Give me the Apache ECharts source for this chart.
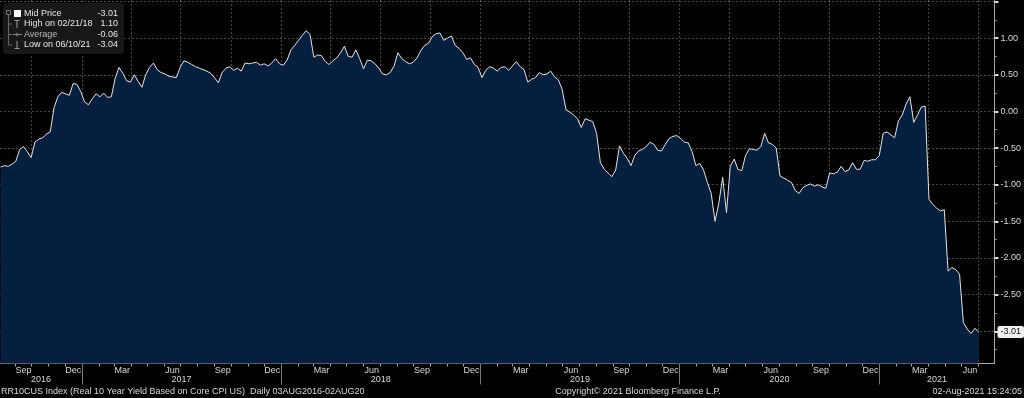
<!DOCTYPE html>
<html>
<head>
<meta charset="utf-8">
<title>RR10CUS Index</title>
<script src="https://cdn.jsdelivr.net/npm/echarts@6.0.0/dist/echarts.min.js"></script>
<style>
  html, body { margin: 0; padding: 0; background: #000; }
  #chart { width: 1024px; height: 398px; }
</style>
</head>
<body>
<div id="chart"></div>
<script>
// weekly closes (Fridays)
const startDate = [2016, 7, 5]
const values = [
  -0.76, -0.74, -0.75, -0.72, -0.68, -0.52, -0.48, -0.55, -0.63, -0.42,
  -0.38, -0.36, -0.31, -0.28, 0.05, 0.20, 0.26, 0.24, 0.22, 0.38,
  0.37, 0.27, 0.13, 0.09, 0.17, 0.24, 0.20, 0.25, 0.19, 0.20,
  0.45, 0.60, 0.52, 0.42, 0.40, 0.50, 0.41, 0.33, 0.50, 0.60,
  0.66, 0.57, 0.53, 0.51, 0.48, 0.47, 0.46, 0.60, 0.69, 0.67,
  0.64, 0.61, 0.59, 0.57, 0.55, 0.52, 0.46, 0.39, 0.53, 0.59,
  0.61, 0.56, 0.59, 0.55, 0.66, 0.65, 0.66, 0.67, 0.63, 0.65,
  0.62, 0.66, 0.72, 0.65, 0.63, 0.70, 0.84, 0.90, 0.97, 1.04,
  1.10, 1.05, 0.74, 0.77, 0.76, 0.68, 0.64, 0.69, 0.73, 0.80,
  0.89, 0.75, 0.74, 0.84, 0.72, 0.58, 0.70, 0.69, 0.65, 0.59,
  0.51, 0.50, 0.53, 0.62, 0.80, 0.72, 0.68, 0.65, 0.67, 0.73,
  0.83, 0.90, 0.93, 1.02, 1.06, 1.07, 0.97, 1.00, 1.03, 0.90,
  0.86, 0.80, 0.71, 0.73, 0.64, 0.60, 0.46, 0.56, 0.61, 0.59,
  0.55, 0.60, 0.61, 0.56, 0.62, 0.68, 0.61, 0.57, 0.40, 0.44,
  0.46, 0.53, 0.50, 0.51, 0.55, 0.47, 0.43, 0.30, 0.02, -0.01,
  -0.05, -0.10, -0.22, -0.10, -0.12, -0.14, -0.30, -0.70, -0.79, -0.84,
  -0.89, -0.80, -0.47, -0.57, -0.64, -0.74, -0.60, -0.54, -0.52, -0.48,
  -0.42, -0.45, -0.53, -0.54, -0.45, -0.37, -0.34, -0.33, -0.37, -0.42,
  -0.43, -0.55, -0.74, -0.71, -0.80, -0.97, -1.12, -1.50, -1.25, -0.90,
  -1.38, -0.75, -0.65, -0.79, -0.81, -0.60, -0.51, -0.52, -0.53, -0.48,
  -0.30, -0.43, -0.45, -0.50, -0.88, -0.91, -0.94, -0.97, -1.08, -1.12,
  -1.04, -1.01, -0.99, -1.02, -1.00, -1.03, -1.05, -0.84, -0.85, -0.83,
  -0.75, -0.82, -0.80, -0.70, -0.79, -0.79, -0.67, -0.68, -0.66, -0.66,
  -0.60, -0.30, -0.28, -0.32, -0.36, -0.13, -0.05, 0.10, 0.20, -0.15,
  -0.05, 0.06, 0.07, -1.20, -1.27, -1.32, -1.36, -1.34, -2.18, -2.13,
  -2.16, -2.22, -2.88, -2.97, -3.03, -2.96, -3.01
]

const monthNames = ['Jan', 'Feb', 'Mar', 'Apr', 'May', 'Jun', 'Jul', 'Aug', 'Sep', 'Oct', 'Nov', 'Dec']
const labelMonths = [2, 5, 8, 11] // Mar Jun Sep Dec
const years = [2016, 2017, 2018, 2019, 2020, 2021]
const yLabels = [1.0, 0.5, 0.0, -0.5, -1.0, -1.5, -2.0, -2.5]
const yTicks = [1.5, 1.0, 0.5, 0.0, -0.5, -1.0, -1.5, -2.0, -2.5, -3.0]
const yMinorTicks = [1.25, 0.75, 0.25, -0.25, -0.75, -1.25, -1.75, -2.25, -2.75, -3.25]
const yMin = -3.44
const yMax = 1.52

const legendLabels = ['Mid Price', 'High on 02/21/18', 'Average', 'Low on 06/10/21']
const legendValues = ['-3.01', '1.10', '-0.06', '-3.04']

const footerLeft = 'RR10CUS Index (Real 10 Year Yield Based on Core CPI US)  Daily 03AUG2016-02AUG20'
const footerCenter = 'Copyright\u00A9 2021 Bloomberg Finance L.P.'
const footerRight = '02-Aug-2021 15:24:05'

const axisStart = new Date(2016, 7, 4).getTime()
const axisEnd = new Date(2021, 6, 31).getTime()

const DAY = 864e5
const t0 = new Date(startDate[0], startDate[1], startDate[2]).getTime()
const seriesData = values.map((v, i) => [t0 + i * 7 * DAY, v])
const lastValue = values[values.length - 1]

// tick positions on the date axis (timestamps on a value axis)
const monthStarts = []
const quarterStarts = []
const monthMids = []
const yearStarts = []
const yearMids = []
years.forEach(y => {
  for (let m = 0; m < 12; m++) {
    monthStarts.push(new Date(y, m, 1).getTime())
    if (m % 3 === 0) quarterStarts.push(new Date(y, m, 1).getTime())
  }
  labelMonths.forEach(m => monthMids.push(new Date(y, m, 16).getTime()))
  yearStarts.push(new Date(y, 0, 1).getTime())
  const a = Math.max(axisStart, new Date(y, 0, 1).getTime())
  const b = Math.min(axisEnd, new Date(y + 1, 0, 1).getTime())
  yearMids.push((a + b) / 2)
})
const inRange = arr => arr.filter(t => t >= axisStart && t <= axisEnd)

const textColor = '#d8d8d8'
const font = 'Liberation Sans, Arial, sans-serif'
const gridLine = { show: true, lineStyle: { color: 'rgba(255,255,255,0.28)', type: [2, 2], width: 1 } }

const chart = echarts.init(document.getElementById('chart'))

const baseX = { type: 'value', min: axisStart, max: axisEnd, position: 'bottom', gridIndex: 0, scale: true }
const baseY = { type: 'value', min: yMin, max: yMax, position: 'right', gridIndex: 0 }

const legendY = [13.5, 24, 34.5, 45]
const legendGraphics = [
  { type: 'rect', shape: { x: 3, y: 3, width: 121, height: 51, r: 3 }, style: { fill: '#181818' }, z: 100 },
  { type: 'rect', shape: { x: 6.5, y: 10.5, width: 4, height: 4 }, style: { fill: 'none', stroke: '#777', lineWidth: 1 }, z: 101 },
  { type: 'polyline', shape: { points: [[8.5, 15], [8.5, 45], [12, 45]] }, style: { stroke: '#666', lineWidth: 1, fill: 'none' }, z: 101 },
  { type: 'line', shape: { x1: 8.5, y1: 24, x2: 12, y2: 24 }, style: { stroke: '#666' }, z: 101 },
  { type: 'line', shape: { x1: 8.5, y1: 34.5, x2: 12, y2: 34.5 }, style: { stroke: '#666' }, z: 101 },
  { type: 'rect', shape: { x: 14, y: 10, width: 7, height: 7 }, style: { fill: '#ffffff' }, z: 101 },
  // high marker
  { type: 'line', shape: { x1: 14.5, y1: 20.5, x2: 19.5, y2: 20.5 }, style: { stroke: '#999' }, z: 101 },
  { type: 'line', shape: { x1: 17, y1: 20.5, x2: 17, y2: 28 }, style: { stroke: '#999' }, z: 101 },
  // average marker
  { type: 'line', shape: { x1: 13, y1: 34.5, x2: 22, y2: 34.5 }, style: { stroke: '#888' }, z: 101 },
  { type: 'line', shape: { x1: 17, y1: 32.5, x2: 17, y2: 36.5 }, style: { stroke: '#888' }, z: 101 },
  // low marker
  { type: 'line', shape: { x1: 17, y1: 41, x2: 17, y2: 48.5 }, style: { stroke: '#999' }, z: 101 },
  { type: 'line', shape: { x1: 14.5, y1: 48.5, x2: 19.5, y2: 48.5 }, style: { stroke: '#999' }, z: 101 }
]
legendLabels.forEach((label, i) => {
  legendGraphics.push({
    type: 'text', x: 24, y: legendY[i], z: 102,
    style: { text: label, fill: i === 2 ? '#b8b8b8' : '#e6e6e6', font: '9px ' + font, verticalAlign: 'middle' }
  })
  legendGraphics.push({
    type: 'text', x: 118, y: legendY[i], z: 102,
    style: { text: legendValues[i], fill: '#e6e6e6', font: '9px ' + font, align: 'right', verticalAlign: 'middle' }
  })
})

const footerGraphics = [
  { type: 'text', x: 1, y: 392, style: { text: footerLeft, fill: textColor, font: '9px ' + font, verticalAlign: 'middle' } },
  { type: 'text', x: 638, y: 392, style: { text: footerCenter, fill: textColor, font: '9px ' + font, align: 'center', verticalAlign: 'middle' } },
  { type: 'text', x: 1022, y: 392, style: { text: footerRight, fill: textColor, font: '9px ' + font, align: 'right', verticalAlign: 'middle' } }
]

const option = {
  backgroundColor: '#000',
  animation: false,
  grid: { left: 0, right: 29, top: 0, bottom: 34.5, containLabel: false },
  xAxis: [
    Object.assign({}, baseX, {
      axisLine: { show: true, onZero: false, lineStyle: { color: '#a8a8a8', width: 1 } },
      axisTick: { show: true, customValues: inRange(monthStarts), length: 3, lineStyle: { color: '#a8a8a8' } },
      axisLabel: {
        show: true, customValues: inRange(monthMids), margin: 3, color: textColor, fontSize: 9, fontFamily: font,
        formatter: v => monthNames[new Date(v).getMonth()]
      },
      splitLine: { show: false }
    }),
    Object.assign({}, baseX, {
      z: 3,
      axisLine: { show: false, onZero: false },
      axisTick: { show: false, customValues: inRange(quarterStarts) },
      axisLabel: { show: false },
      splitLine: gridLine
    }),
    Object.assign({}, baseX, {
      axisLine: { show: false, onZero: false },
      axisTick: { show: true, customValues: inRange(yearStarts), length: 21, lineStyle: { color: '#7a7a7a' } },
      axisLabel: {
        show: true, customValues: yearMids, margin: 12, color: textColor, fontSize: 9, fontFamily: font,
        formatter: v => String(new Date(v).getFullYear())
      },
      splitLine: { show: false }
    })
  ],
  yAxis: [
    Object.assign({}, baseY, {
      z: 3,
      axisLine: { show: true, onZero: false, lineStyle: { color: '#a8a8a8', width: 1 } },
      axisTick: { show: true, customValues: yTicks, length: 4, lineStyle: { color: '#d8d8d8', width: 2 } },
      axisLabel: {
        show: true, customValues: yLabels, margin: 6, color: textColor, fontSize: 9, fontFamily: font,
        formatter: v => v.toFixed(2)
      },
      splitLine: gridLine
    }),
    Object.assign({}, baseY, {
      axisLine: { show: false, onZero: false },
      axisTick: { show: true, customValues: yMinorTicks, length: 2, lineStyle: { color: '#a8a8a8' } },
      axisLabel: { show: false },
      splitLine: { show: false }
    })
  ],
  series: [
    {
      name: 'Mid Price',
      type: 'line',
      xAxisIndex: 0,
      yAxisIndex: 0,
      data: seriesData,
      symbol: 'none',
      clip: false,
      lineStyle: { color: '#e4e4e4', width: 1 },
      areaStyle: { color: '#051f3e', opacity: 1, origin: 'start' },
      markLine: {
        silent: true,
        symbol: 'none',
        lineStyle: { color: 'rgba(0,0,0,0)', width: 0 },
        label: {
          show: true, position: 'end', distance: 3, formatter: lastValue.toFixed(2),
          backgroundColor: '#f0f0f0', color: '#111', fontSize: 9, fontFamily: font,
          padding: [2, 3, 1, 3], borderRadius: 2
        },
        data: [{ yAxis: lastValue }]
      }
    }
  ],
  graphic: legendGraphics.concat(footerGraphics)
}

chart.setOption(option)
window.addEventListener('resize', () => chart.resize())
</script>
</body>
</html>
